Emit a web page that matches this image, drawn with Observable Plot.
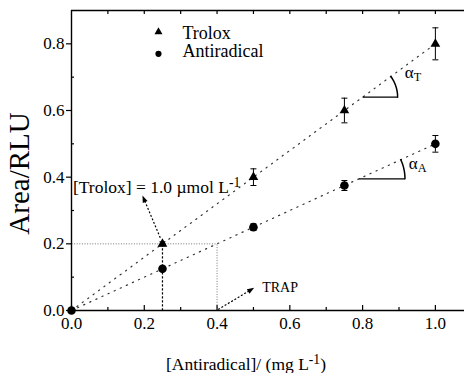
<!DOCTYPE html>
<html><head><meta charset="utf-8">
<script src="https://cdn.jsdelivr.net/npm/d3@7"></script>
<script src="https://cdn.jsdelivr.net/npm/@observablehq/plot@0.6"></script>
<style>
html,body{margin:0;padding:0;background:#fff;}
#chart svg{display:block;}
#chart svg, #chart svg text, #chart svg tspan{font-family:'Liberation Serif','Times New Roman',serif !important;}
</style></head><body><div id="chart"></div>
<script>
// ---- data ----
const troloxConc = [0.25, 0.5, 0.75, 1.0];
const troloxArea = [0.2, 0.4, 0.6, 0.8];
const troloxErr = [0.006, 0.025, 0.037, 0.048];
const antiConc = [0, 0.25, 0.5, 0.75, 1.0];
const antiArea = [0, 0.125, 0.25, 0.375, 0.5];
const antiErr = [0, 0, 0.01, 0.015, 0.025];
const seriesNames = ["Trolox", "Antiradical"];
const seriesSymbols = ["triangle", "circle"];
const xTicks = [0, 0.2, 0.4, 0.6, 0.8, 1.0];
const xMinorTicks = [0.1, 0.3, 0.5, 0.7, 0.9];
const xTopTicks = [0.1, 0.2, 0.3, 0.4, 0.5, 0.6, 0.7, 0.8, 0.9, 1.0];
const yTicks = [0, 0.2, 0.4, 0.6, 0.8];
const yMinorTicks = [0.1, 0.3, 0.5, 0.7];
const refArea = 0.2;          // area of [Trolox] = 1.0 µmol/L
const troloxRefConc = 0.25;   // Trolox point at that area
const trapConc = 0.4;         // antiradical conc giving same area
const xLabel = "[Antiradical]/ (mg L^{-1})";
const yLabel = "Area/RLU";
const troloxNote = "[Trolox] = 1.0 µmol L^{-1}";
const trapNote = "TRAP";
const angleNames = ["α_{T}", "α_{A}"];

// ---- layout ----
const W = 464, H = 373, ML = 71, MR = 0, MT = 10, MB = 63, XMAX = 1.08, YMAX = 0.9;
const kx = (W - ML - MR) / XMAX, ky = (H - MT - MB) / YMAX;
const serif = "Liberation Serif";

const trolox = troloxConc.map((x, i) => ({x, y: troloxArea[i], e: troloxErr[i]}));
const anti = antiConc.map((x, i) => ({x, y: antiArea[i], e: antiErr[i]}));
const slopeT = troloxArea[troloxArea.length - 1] / troloxConc[troloxConc.length - 1];
const slopeA = antiArea[antiArea.length - 1] / antiConc[antiConc.length - 1];
const fitT = [0, 1].map(x => ({x, y: slopeT * x}));
const fitA = [0, 1].map(x => ({x, y: slopeA * x}));

// angle annotations (center on fit line, radius in px)
const angles = [
  {x0: 0.8, slope: slopeT, R: 35, lx: 0.916, ly: 0.715},
  {x0: 0.79, slope: slopeA, R: 46, lx: 0.927, ly: 0.44}
].map((a, i) => ({...a, y0: a.slope * a.x0, name: angleNames[i]}));
function arcPts(a) {
  const phi = Math.atan(a.slope * ky / kx), pts = [];
  for (let i = 0; i <= 24; i++) {
    const t = phi * i / 24;
    pts.push({x: a.x0 + a.R * Math.cos(t) / kx, y: a.y0 + a.R * Math.sin(t) / ky, k: a.name});
  }
  return pts;
}
const arcs = angles.flatMap(arcPts);
const hsegs = angles.map(a => ({x1: a.x0, x2: a.x0 + a.R / kx, y: a.y0}));

// arrows
const arrows = [
  {x1: 0.244, y1: 0.218, x2: 0.195, y2: 0.345},
  {x1: trapConc + 0.003, y1: 0.003, x2: 0.502, y2: 0.068}
].map(a => {
  const dxp = (a.x2 - a.x1) * kx, dyp = -(a.y2 - a.y1) * ky;
  const len = Math.hypot(dxp, dyp);
  const f = (len - 5) / len;
  return {...a, xe: a.x1 + (a.x2 - a.x1) * f, ye: a.y1 + (a.y2 - a.y1) * f,
    angle: Math.atan2(dyp, dxp) * 180 / Math.PI};
});
const headSymbol = {draw(ctx) { ctx.moveTo(0, 0); ctx.lineTo(-7, -2.6); ctx.lineTo(-7, 2.6); ctx.closePath(); }};
const capSymbol = {draw(ctx) { ctx.moveTo(-3, 0); ctx.lineTo(3, 0); }};

// legend layout
const legend = seriesNames.map((name, i) => ({name, symbol: seriesSymbols[i],
  sx: 0.239, sy: [0.836, 0.77][i], tx: 0.305, ty: [0.833, 0.777][i]}));

const fmt = d3.format(".1f");
const empty = () => "";

const plot = Plot.plot({
  width: W, height: H, marginLeft: ML, marginRight: MR, marginTop: MT, marginBottom: MB,
  style: {fontFamily: serif, background: "#fff", color: "#000"},
  x: {domain: [0, XMAX]},
  y: {domain: [0, YMAX]},
  marks: [
    // reference guides
    Plot.link([{x1: 0, x2: trapConc, y: refArea}], {x1: "x1", x2: "x2", y1: "y", y2: "y", stroke: "#777", strokeWidth: 1, strokeDasharray: "1,1.6"}),
    Plot.link([{x: trapConc, y: refArea}], {x1: "x", x2: "x", y1: 0, y2: "y", stroke: "#777", strokeWidth: 1, strokeDasharray: "1,1.6"}),
    Plot.link([{x: troloxRefConc, y: refArea}], {x1: "x", x2: "x", y1: 0, y2: "y", stroke: "#000", strokeWidth: 1.2, strokeDasharray: "2.2,1.8"}),
    // fit lines
    Plot.line(fitT, {x: "x", y: "y", stroke: "#333", strokeWidth: 1.2, strokeDasharray: "1.2,5.5"}),
    Plot.line(fitA, {x: "x", y: "y", stroke: "#333", strokeWidth: 1.2, strokeDasharray: "1.2,5.5"}),
    // arrows
    Plot.link(arrows, {x1: "x1", y1: "y1", x2: "xe", y2: "ye", stroke: "#000", strokeWidth: 1.2, strokeDasharray: "2,1.8"}),
    Plot.dot(arrows, {x: "x2", y: "y2", symbol: headSymbol, rotate: "angle", r: 4, fill: "#000", stroke: "none"}),
    // angle markers
    Plot.link(hsegs, {x1: "x1", x2: "x2", y1: "y", y2: "y", stroke: "#000", strokeWidth: 1.3}),
    Plot.line(arcs, {x: "x", y: "y", z: "k", stroke: "#000", strokeWidth: 1.5}),
    Plot.text(angles, {x: "lx", y: "ly", text: "name", textAnchor: "start", fontSize: 17, fontFamily: serif, fill: "#000"}),
    // error bars
    Plot.ruleX(trolox.concat(anti).filter(d => d.e > 0), {x: "x", y1: d => d.y - d.e, y2: d => d.y + d.e, stroke: "#000", strokeWidth: 1}),
    Plot.dot(trolox.concat(anti).filter(d => d.e > 0), {x: "x", y: d => d.y + d.e, symbol: capSymbol, stroke: "#000", strokeWidth: 1}),
    Plot.dot(trolox.concat(anti).filter(d => d.e > 0), {x: "x", y: d => d.y - d.e, symbol: capSymbol, stroke: "#000", strokeWidth: 1}),
    // data points
    Plot.dot(trolox, {x: "x", y: "y", symbol: "triangle", r: 3.6, fill: "#000", stroke: "none"}),
    Plot.dot(anti, {x: "x", y: "y", symbol: "circle", r: 4.3, fill: "#000", stroke: "none"}),
    // annotation texts
    Plot.text([troloxNote], {x: 0.004, y: 0.37, text: d => d, textAnchor: "start", fontSize: 17.5, fontFamily: serif, fill: "#000"}),
    Plot.text([trapNote], {x: trapConc + 0.124, y: 0.07, text: d => d, textAnchor: "start", fontSize: 14, fontFamily: serif, fill: "#000"}),
    // legend
    Plot.dot(legend, {x: "sx", y: "sy", symbol: "symbol", r: d => d.symbol === "circle" ? 3.6 : 3.3, fill: "#000", stroke: "none"}),
    Plot.text(legend, {x: "tx", y: "ty", text: "name", textAnchor: "start", fontSize: 18, fontFamily: serif, fill: "#000"}),
    // axes
    Plot.ruleX([0], {stroke: "#000", strokeWidth: 1.4}),
    Plot.ruleY([0], {stroke: "#000", strokeWidth: 1.4}),
    Plot.ruleY([YMAX], {stroke: "#000", strokeWidth: 1.3}),
    Plot.axisY(yTicks, {tickSize: 5, tickPadding: 2, tickFormat: fmt, fontSize: 17, label: null, strokeWidth: 1.2}),
    Plot.axisY(yMinorTicks, {tickSize: -3, tickFormat: empty, label: null, strokeWidth: 1.2}),
    Plot.axisX(xTicks, {tickSize: -5, tickFormat: empty, label: null, strokeWidth: 1.2}),
    Plot.axisX(xMinorTicks, {tickSize: -3, tickFormat: empty, label: null, strokeWidth: 1.2}),
    Plot.axisX(xTicks, {tickSize: 0, tickPadding: 6, tickFormat: fmt, fontSize: 17, label: null}),
    Plot.axisX(xTopTicks, {anchor: "top", tickSize: -3, tickFormat: empty, label: null, strokeWidth: 1.2}),
    // axis labels
    Plot.text([yLabel], {frameAnchor: "left", text: d => d, rotate: -90, textAnchor: "middle", dx: -52, dy: 13, fontSize: 29, fontFamily: serif, fill: "#000"}),
    Plot.text([xLabel], {frameAnchor: "bottom", text: d => d, textAnchor: "middle", lineAnchor: "bottom", dx: -22, dy: 59, fontSize: 17.5, fontFamily: serif, fill: "#000"})
  ]
});

// rich text: ^{..} superscript, _{..} subscript
d3.select(plot).selectAll("text").each(function() {
  const s = this.textContent;
  if (!/[\^_]\{/.test(s)) return;
  const el = d3.select(this);
  const parts = s.split(/([\^_]\{[^}]*\})/);
  el.text(null);
  for (const p of parts) {
    if (!p) continue;
    const m = p.match(/^([\^_])\{([^}]*)\}$/);
    if (m) el.append("tspan").attr("baseline-shift", m[1] === "^" ? "40%" : "-28%").attr("font-size", m[1] === "^" ? "78%" : "72%").text(m[2]);
    else el.append("tspan").text(p);
  }
});

document.getElementById("chart").appendChild(plot);
</script>
</body></html>
